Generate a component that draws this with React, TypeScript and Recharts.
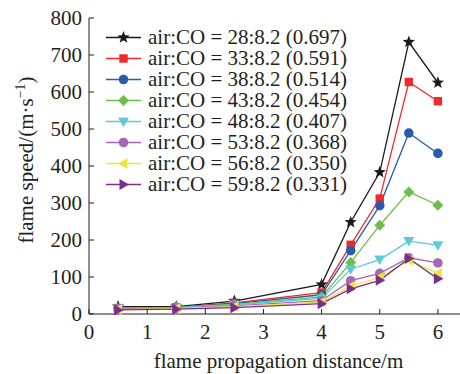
import React from "react";
import { LineChart, Line, XAxis, YAxis } from "recharts";

const distance = [0.5, 1.5, 2.5, 4, 4.5, 5, 5.5, 6];

const ratio28 = [20, 20, 35, 80, 248, 383, 735, 625];
const ratio33 = [16, 18, 30, 58, 187, 312, 627, 575];
const ratio38 = [15, 18, 28, 52, 171, 293, 489, 434];
const ratio43 = [15, 18, 26, 46, 139, 240, 330, 294];
const ratio48 = [15, 17, 25, 42, 121, 147, 197, 186];
const ratio53 = [14, 16, 22, 36, 90, 110, 152, 138];
const ratio56 = [12, 15, 20, 32, 75, 99, 145, 110];
const ratio59 = [11, 13, 17, 28, 68, 91, 150, 95];

const xTicks = [0, 1, 2, 3, 4, 5, 6];
const yTicks = [0, 100, 200, 300, 400, 500, 600, 700, 800];

const SERIES = [
  { key: "r28", name: "air:CO = 28:8.2 (0.697)", values: ratio28, color: "#1a1a1a", shape: "star" },
  { key: "r33", name: "air:CO = 33:8.2 (0.591)", values: ratio33, color: "#ee2a2f", shape: "square" },
  { key: "r38", name: "air:CO = 38:8.2 (0.514)", values: ratio38, color: "#2a5caa", shape: "circle" },
  { key: "r43", name: "air:CO = 43:8.2 (0.454)", values: ratio43, color: "#6dbf4b", shape: "diamond" },
  { key: "r48", name: "air:CO = 48:8.2 (0.407)", values: ratio48, color: "#5ccbd6", shape: "triDown" },
  { key: "r53", name: "air:CO = 53:8.2 (0.368)", values: ratio53, color: "#a866b6", shape: "circle" },
  { key: "r56", name: "air:CO = 56:8.2 (0.350)", values: ratio56, color: "#e9e83c", shape: "triLeft" },
  { key: "r59", name: "air:CO = 59:8.2 (0.331)", values: ratio59, color: "#7b2d8e", shape: "triRight" },
];

const data = distance.map((d, i) => {
  const row: Record<string, number> = { d };
  SERIES.forEach((s) => (row[s.key] = s.values[i]));
  return row;
});

const FONT = "Liberation Serif, DejaVu Serif, Noto Serif, serif";
const TEXT = "#231f20";

function Marker({ cx, cy, shape, color }: { cx: number; cy: number; shape: string; color: string }) {
  if (cx == null || cy == null) return null;
  switch (shape) {
    case "star": {
      const pts: string[] = [];
      for (let k = 0; k < 10; k++) {
        const r = k % 2 === 0 ? 6.5 : 2.7;
        const a = -Math.PI / 2 + (k * Math.PI) / 5;
        pts.push(`${cx + r * Math.cos(a)},${cy + r * Math.sin(a)}`);
      }
      return <polygon points={pts.join(" ")} fill={color} />;
    }
    case "square":
      return <rect x={cx - 4.2} y={cy - 4.2} width={8.4} height={8.4} fill={color} />;
    case "circle":
      return <circle cx={cx} cy={cy} r={4.8} fill={color} />;
    case "diamond":
      return <polygon points={`${cx},${cy - 5.5} ${cx + 5.5},${cy} ${cx},${cy + 5.5} ${cx - 5.5},${cy}`} fill={color} />;
    case "triDown":
      return <polygon points={`${cx - 5.5},${cy - 4} ${cx + 5.5},${cy - 4} ${cx},${cy + 5.5}`} fill={color} />;
    case "triLeft":
      return <polygon points={`${cx - 5.5},${cy} ${cx + 4},${cy - 5.5} ${cx + 4},${cy + 5.5}`} fill={color} />;
    case "triRight":
      return <polygon points={`${cx + 5.5},${cy} ${cx - 4},${cy - 5.5} ${cx - 4},${cy + 5.5}`} fill={color} />;
    default:
      return null;
  }
}

// legend sits inside the plot, drawn on top as plain html
function LegendBox() {
  return (
    <div style={{ position: "absolute", left: 104, top: 27, fontFamily: FONT, fontSize: 21, color: TEXT }}>
      {SERIES.map((s) => (
        <div key={s.key} style={{ display: "flex", alignItems: "center", height: 21, whiteSpace: "nowrap" }}>
          <svg width={44} height={21} style={{ display: "block" }}>
            <line x1={2} x2={37} y1={10.5} y2={10.5} stroke={s.color} strokeWidth={1.4} />
            <Marker cx={19.5} cy={10.5} shape={s.shape} color={s.color} />
          </svg>
          <span style={{ display: "block", height: 21, lineHeight: "21px" }}>{s.name}</span>
        </div>
      ))}
    </div>
  );
}

export default function App() {
  return (
    <div style={{ position: "absolute", left: 0, top: 0, width: 460, height: 374, background: "#fff", fontFamily: FONT }}>
      <LineChart width={460} height={374} data={data} margin={{ top: 18, right: 0, bottom: 0, left: 0 }} style={{ fontFamily: FONT }}>
        <XAxis
          dataKey="d"
          type="number"
          domain={[0, 6.38]}
          ticks={xTicks}
          height={60}
          allowDataOverflow
          stroke="#231f20"
          tickSize={-5}
          tickMargin={15}
          tick={{ fill: TEXT, fontSize: 21, fontFamily: FONT }}
          label={{
            content: (p: any) => {
              const vb = p.viewBox;
              return (
                <text x={vb.x + vb.width / 2 + 4} y={368} textAnchor="middle" fill={TEXT} fontSize={21} fontFamily={FONT}>
                  flame propagation distance/m
                </text>
              );
            },
          }}
        />
        <YAxis
          type="number"
          domain={[0, 800]}
          ticks={yTicks}
          width={89}
          stroke="#231f20"
          tickSize={-5}
          tickMargin={12}
          tick={{ fill: TEXT, fontSize: 21, fontFamily: FONT }}
          label={{
            content: () => (
              <text transform="translate(33,160) rotate(-90)" textAnchor="middle" fill={TEXT} fontSize={21} fontFamily={FONT}>
                <tspan>flame speed/(m·s</tspan>
                <tspan dy={-8} fontSize={14}>−1</tspan>
                <tspan dy={8}>)</tspan>
              </text>
            ),
          }}
        />
        {SERIES.map((s) => (
          <Line
            key={s.key}
            dataKey={s.key}
            name={s.name}
            stroke={s.color}
            strokeWidth={1.3}
            isAnimationActive={false}
            dot={(p: any) => <Marker key={`${s.key}-${p.index}`} cx={p.cx} cy={p.cy} shape={s.shape} color={s.color} />}
            activeDot={false}
          />
        ))}
      </LineChart>
      <LegendBox />
    </div>
  );
}
